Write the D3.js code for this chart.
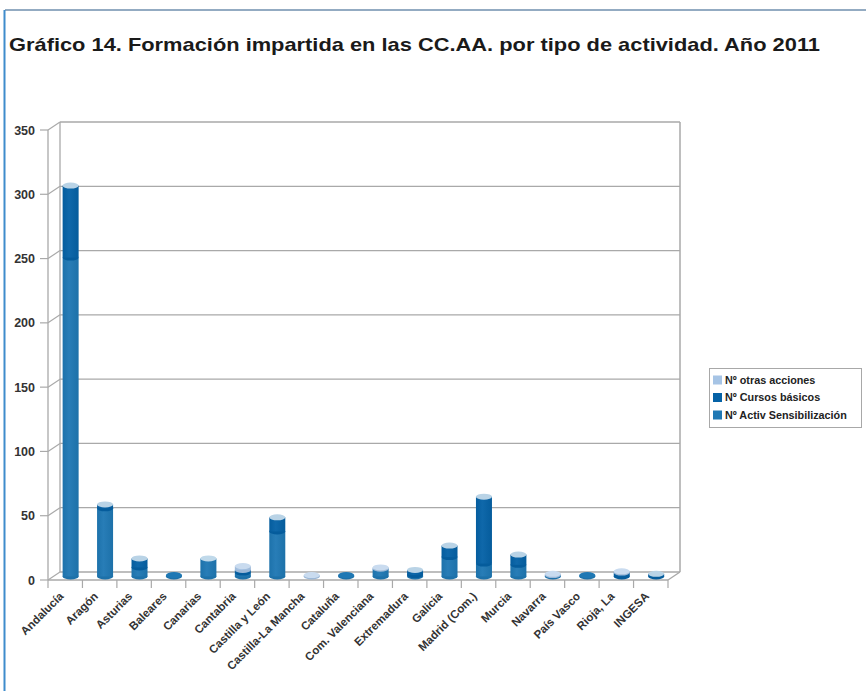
<!DOCTYPE html>
<html><head><meta charset="utf-8">
<script src="https://cdn.jsdelivr.net/npm/d3@7/dist/d3.min.js"></script>
<style>
body{margin:0;background:#fff;}
text{font-family:"Liberation Sans",Arial,Helvetica,sans-serif;}
</style></head>
<body><svg id="c" width="866" height="691"></svg>
<script>
const categories = ["Andalucía","Aragón","Asturias","Baleares","Canarias","Cantabria","Castilla y León","Castilla-La Mancha","Cataluña","Com. Valenciana","Extremadura","Galicia","Madrid (Com.)","Murcia","Navarra","País Vasco","Rioja, La","INGESA"];
const sensibilizacion = [248, 53, 7, 1, 14, 3, 35, 0, 1, 6, 1, 15, 10, 9, 1, 1, 0, 0];
const cursosBasicos   = [56, 3, 7, 0, 0, 2, 11, 0, 0, 0, 4, 9, 52, 8, 0, 0, 3, 2];
const otrasAcciones   = [0, 0, 0, 0, 0, 3, 0, 1, 0, 1, 0, 0, 0, 0, 1, 0, 1, 0];
const seriesNames = ["Nº otras acciones","Nº Cursos básicos","Nº Activ Sensibilización"];
const yTicks = [0,50,100,150,200,250,300,350];

const colSens = "#1f78b4", colCur = "#0562a6", colOtr = "#a6c4e5";
const svg = d3.select("#c");

// frame
svg.append("line").attr("x1",5).attr("y1",10).attr("x2",866).attr("y2",10).attr("stroke","#6f8fae").attr("stroke-width",1.5);
svg.append("line").attr("x1",4.5).attr("y1",10).attr("x2",4.5).attr("y2",691).attr("stroke","#3f8ccc").attr("stroke-width",2);

// title
const title = svg.append("text").attr("x",9).attr("y",51).attr("font-size",19).attr("fill","#1a1a1a");
title.append("tspan").attr("font-weight",900).text("Gráfico 14. ");
title.append("tspan").attr("font-weight",700).text("Formación impartida en las CC.AA. por tipo de actividad. Año 2011");
title.attr("textLength",811).attr("lengthAdjust","spacingAndGlyphs");

// scales
const x0 = 48, x1 = 668, dx = 12, dy = -8;
const x = d3.scaleBand().domain(categories).range([x0,x1]);
const y = d3.scaleLinear().domain([0,350]).range([580,130]);
const grid = "#a9a9a9";

const g = svg.append("g");
yTicks.forEach(t=>{
  g.append("line").attr("x1",x0+dx).attr("x2",x1+dx).attr("y1",y(t)+dy).attr("y2",y(t)+dy).attr("stroke",grid).attr("stroke-width",1.3);
  g.append("line").attr("x1",x0).attr("x2",x0+dx).attr("y1",y(t)).attr("y2",y(t)+dy).attr("stroke",grid).attr("stroke-width",1.2);
  g.append("line").attr("x1",x0-8).attr("x2",x0).attr("y1",y(t)).attr("y2",y(t)).attr("stroke",grid).attr("stroke-width",1.2);
  g.append("text").attr("x",35).attr("y",y(t)).attr("dy","0.36em").attr("text-anchor","end")
    .attr("font-size",12.5).attr("font-weight",700).attr("fill","#333").text(t);
});
g.append("line").attr("x1",x0+dx).attr("x2",x0+dx).attr("y1",y(350)+dy).attr("y2",y(0)+dy).attr("stroke",grid).attr("stroke-width",1.3);
g.append("line").attr("x1",x1+dx).attr("x2",x1+dx).attr("y1",y(350)+dy).attr("y2",y(0)+dy).attr("stroke",grid).attr("stroke-width",1.5);
g.append("line").attr("x1",x0).attr("x2",x0).attr("y1",y(350)).attr("y2",y(0)).attr("stroke",grid).attr("stroke-width",1.3);
g.append("line").attr("x1",x0).attr("x2",x1).attr("y1",y(0)).attr("y2",y(0)).attr("stroke",grid).attr("stroke-width",1.3);
g.append("line").attr("x1",x1).attr("x2",x1+dx).attr("y1",y(0)).attr("y2",y(0)+dy).attr("stroke",grid).attr("stroke-width",1.3);
const bounds = categories.map(c=>x(c)).concat([x1]);
bounds.forEach(b=>{
  g.append("line").attr("x1",b).attr("x2",b).attr("y1",y(0)).attr("y2",y(0)+8).attr("stroke",grid).attr("stroke-width",1.2);
});
categories.forEach(c=>{
  const cx = x(c)+x.bandwidth()/2;
  g.append("text").attr("transform",`translate(${cx-1},${y(0)+17}) rotate(-45)`)
   .attr("text-anchor","end").attr("font-size",11.5).attr("font-weight",700).attr("fill","#333").text(c);
});

// cylinders
const rx = 8, ry = 3;
const off = 0.45;
const lighten = (c,k)=>d3.interpolateRgb(c,"#ffffff")(k);
const darken = (c,k)=>d3.interpolateRgb(c,"#000000")(k);
const defs = svg.append("defs");
[["gS",colSens],["gC",colCur],["gO",colOtr]].forEach(([id,c])=>{
  const lg = defs.append("linearGradient").attr("id",id).attr("x1","0").attr("x2","1").attr("y1","0").attr("y2","0");
  lg.append("stop").attr("offset","0%").attr("stop-color",darken(c,0.05));
  lg.append("stop").attr("offset","40%").attr("stop-color",lighten(c,0.04));
  lg.append("stop").attr("offset","100%").attr("stop-color",darken(c,0.06));
});
const bars = svg.append("g");
categories.forEach((c,i)=>{
  const cx = x(c)+x.bandwidth()/2 + dx*off;
  const shift = dy*off;
  const segs = [[sensibilizacion[i],colSens,"url(#gS)"],[cursosBasicos[i],colCur,"url(#gC)"],[otrasAcciones[i],colOtr,"url(#gO)"]];
  let acc = 0;
  let topCol = null;
  segs.forEach(([v,col,fill])=>{
    if(v<=0) return;
    const yb = y(acc)+shift, yt = y(acc+v)+shift;
    bars.append("ellipse").attr("cx",cx).attr("cy",yb).attr("rx",rx).attr("ry",ry).attr("fill",darken(col,0.06));
    bars.append("rect").attr("x",cx-rx).attr("y",yt).attr("width",2*rx).attr("height",yb-yt).attr("fill",fill);
    acc += v; topCol = col;
  });
  if(topCol){
    const yt = y(acc)+shift;
    let capCol;
    if(topCol===colOtr) capCol = "#c9dbef";
    else if(acc<=1) capCol = topCol;
    else capCol = lighten(topCol,0.72);
    bars.append("ellipse").attr("cx",cx).attr("cy",yt).attr("rx",rx).attr("ry",ry).attr("fill",capCol);
  }
});

// legend
const lgd = svg.append("g");
lgd.append("rect").attr("x",709.5).attr("y",368.5).attr("width",152).attr("height",59).attr("fill","#fff").attr("stroke","#a8a8a8");
const lcols = [colOtr,colCur,colSens];
seriesNames.forEach((n,i)=>{
  const yy = 380 + i*17.5;
  lgd.append("rect").attr("x",713).attr("y",yy-4.5).attr("width",9).attr("height",9).attr("fill",lcols[i]);
  lgd.append("text").attr("x",725).attr("y",yy).attr("dy","0.36em").attr("font-size",10.8).attr("font-weight",700).attr("fill","#222").text(n);
});
</script></body></html>
